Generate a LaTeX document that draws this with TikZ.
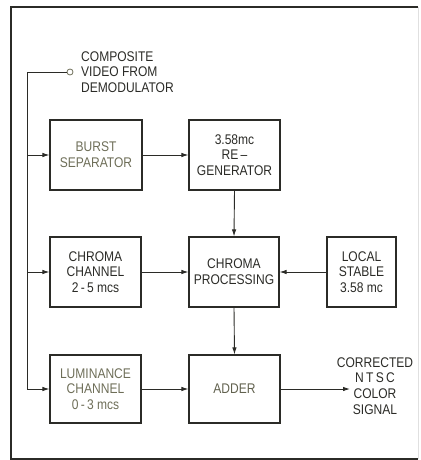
\documentclass[tikz,border=0pt]{standalone}
\usepackage{fontspec}
\setmainfont{Liberation Sans}[FakeStretch=0.86]
\usetikzlibrary{arrows.meta}
\definecolor{ink}{HTML}{2B2B27}
\definecolor{dim}{HTML}{6E6E58}
\begin{document}
\begin{tikzpicture}[x=1pt,y=-1pt,
  every node/.style={font=\fontsize{14}{15.7}\selectfont, text=ink},
  blk/.style={draw=ink, line width=1.1pt, rectangle, align=center, inner sep=0pt, minimum height=70pt},
  wire/.style={draw=ink, line width=0.9pt},
  arr/.style={wire, -{Latex[length=7pt,width=4.5pt]}}]
\useasboundingbox (0,0) rectangle (420,460);
% frame
\draw[ink, line width=1.4pt] (418,7) -- (11,7) -- (11,459) -- (418,459);
\draw[black!12, line width=0.6pt] (418,7) -- (418,459);
% blocks
\node[blk, minimum width=92pt, text=dim] (burst) at (96,155) {BURST\\SEPARATOR};
\node[blk, minimum width=91pt] (regen) at (234.5,155) {3.58mc\\RE\,--\\GENERATOR};
\node[blk, minimum width=91pt] (cchan) at (95.5,272) {CHROMA\\CHANNEL\\2\,-\,5 mcs};
\node[blk, minimum width=90pt] (cproc) at (234,272) {CHROMA\\PROCESSING};
\node[blk, minimum width=69pt] (local) at (361.5,272) {LOCAL\\STABLE\\3.58 mc};
\node[blk, minimum width=91pt, minimum height=68pt, text=dim] (lum) at (95.5,389) {LUMINANCE\\CHANNEL\\0\,-\,3 mcs};
\node[blk, minimum width=91pt, minimum height=68pt, text=dim!80!ink] (adder) at (234.5,389) {ADDER};
% input terminal
\node[draw=dim, circle, line width=0.8pt, minimum size=6pt, inner sep=0pt] (in) at (70,72) {};
\node[anchor=west, align=left, inner sep=0pt] (intext) at (81,72) {COMPOSITE\\VIDEO FROM\\DEMODULATOR};
\coordinate (corner) at (27,72);
\coordinate (bottom) at (27,389);
\path[wire] (in.west) -- (corner) -- (bottom);
% output
\node[align=center, inner sep=0pt] (out) at (375,386) {CORRECTED\\N\,T\,S\,C\\COLOR\\SIGNAL};
\coordinate (outend) at (350,389);
% connectors
\draw[arr] (corner |- burst.west) -- (burst.west);
\draw[arr] (corner |- cchan.west) -- (cchan.west);
\draw[arr] (bottom) -- (lum.west);
\draw[arr] (burst.east) -- (regen.west);
\draw[arr] (regen.south) -- (cproc.north);
\draw[arr] (cchan.east) -- (cproc.west);
\draw[arr] (local.west) -- (cproc.east);
\draw[arr] (cproc.south) -- (adder.north);
\draw[arr] (lum.east) -- (adder.west);
\draw[arr] (adder.east) -- (outend);
\end{tikzpicture}
\end{document}
